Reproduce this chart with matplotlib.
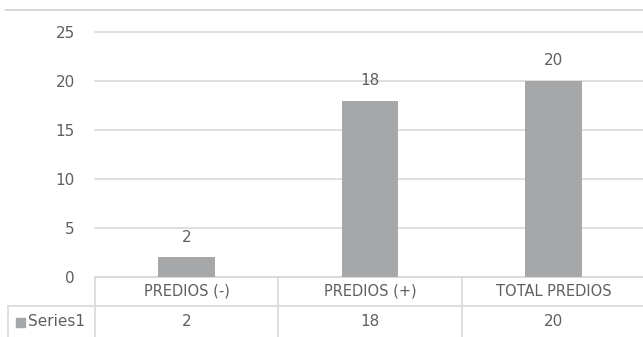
import matplotlib.pyplot as plt
from matplotlib.lines import Line2D
from matplotlib.patches import Rectangle
import matplotlib.transforms as mtransforms

plt.rcParams['font.family'] = ['Liberation Sans Narrow', 'DejaVu Sans']

categories = ["PREDIOS (-)", "PREDIOS (+)", "TOTAL PREDIOS"]
values = [2, 18, 20]
series_name = "Series1"
y_ticks = [0, 5, 10, 15, 20, 25]

bar_color = "#a5a7a9"
text_color = "#5f5f5f"
grid_color = "#d9d9d9"

W, H = 643, 337
fig = plt.figure(figsize=(W / 100, H / 100), dpi=100)

# plot area in pixels: x 95..645, y 32..277 (from top)
ax = fig.add_axes([95 / W, (H - 277) / H, 550 / W, 245 / H])
ax.set_xlim(-0.5, len(categories) - 0.5)
ax.set_ylim(0, 25)

x = list(range(len(categories)))
ax.bar(x, values, width=0.31, color=bar_color, zorder=3)
for xi, v in zip(x, values):
    ax.annotate(str(v), (xi, v), xytext=(0, 14.5), textcoords="offset points",
                ha="center", va="center", fontsize=11, color=text_color, zorder=4)

ax.set_yticks(y_ticks)
ax.set_yticklabels([str(t) for t in y_ticks])
ax.tick_params(axis="y", length=0, pad=14.4, labelsize=11, labelcolor=text_color)
ax.set_xticks([])
ax.yaxis.grid(True, color=grid_color, linewidth=1.2, zorder=0)
for gl in ax.get_ygridlines():
    gl.set_clip_on(False)
for s in ax.spines.values():
    s.set_visible(False)

# data table under the axis
trans = mtransforms.blended_transform_factory(ax.transData, ax.transAxes)
px = 1 / 245          # one pixel in axes-y units
pxx = 1 / 183.3       # one pixel in data-x units
row1 = -29 * px
row2 = -60 * px
left_edge = -0.5 - 87 * pxx

lines = [
    ([-0.5, 2.6], [0, 0]),
    ([left_edge, 2.6], [row1, row1]),
    ([left_edge, left_edge], [row1, row2]),
]
for b in [-0.5, 0.5, 1.5]:
    lines.append(([b, b], [0, row2]))
for xs, ys in lines:
    ax.add_line(Line2D(xs, ys, transform=trans, color=grid_color,
                       linewidth=1.2, clip_on=False))

for xi, cat, v in zip(x, categories, values):
    ax.text(xi, -14.5 * px, cat, transform=trans, ha="center", va="center",
            fontsize=10.5, color=text_color)
    ax.text(xi, -45 * px, str(v), transform=trans, ha="center", va="center",
            fontsize=11, color=text_color)

# legend key + series name
ax.add_patch(Rectangle((left_edge + 8 * pxx, -50 * px), 9 * pxx, 9 * px,
                       transform=trans, color=bar_color, clip_on=False))
ax.text(left_edge + 20 * pxx, -45 * px, series_name, transform=trans,
        ha="left", va="center", fontsize=11, color=text_color)

# chart area top border
fig.add_artist(Line2D([6 / W, 1], [1 - 9.5 / H, 1 - 9.5 / H],
                      transform=fig.transFigure, color=grid_color, linewidth=1.5))

fig.savefig("out.png", dpi=100, facecolor="white")
